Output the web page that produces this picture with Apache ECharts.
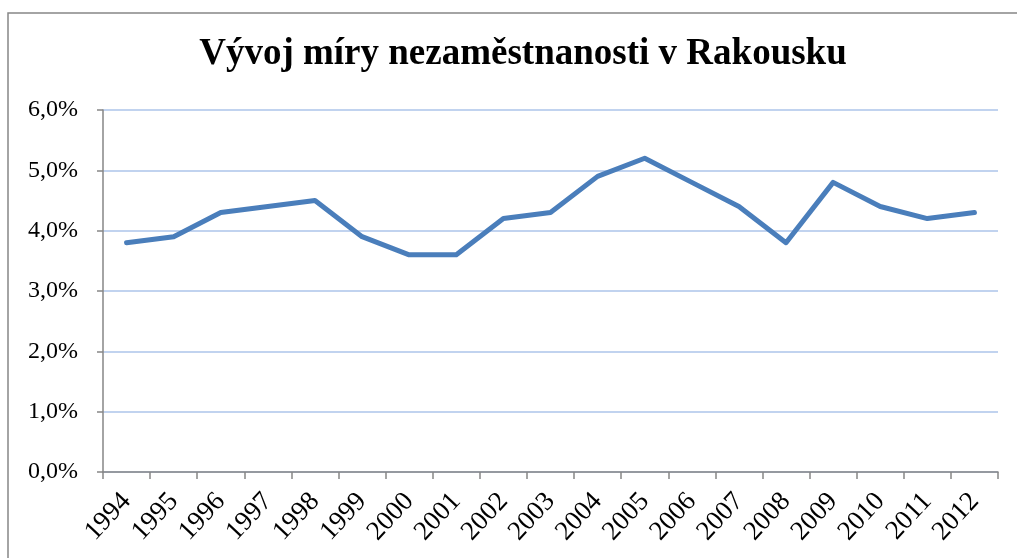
<!DOCTYPE html>
<html><head><meta charset="utf-8">
<script src="https://cdn.jsdelivr.net/npm/echarts@6/dist/echarts.min.js"></script>
<style>html,body{margin:0;padding:0;background:#fff}#c{width:1017px;height:558px}</style>
</head><body><div id="c"></div>
<script>
const title = 'Vývoj míry nezaměstnanosti v Rakousku';
const years = ['1994','1995','1996','1997','1998','1999','2000','2001','2002','2003','2004','2005','2006','2007','2008','2009','2010','2011','2012'];
const unemployment = [3.8,3.9,4.3,4.4,4.5,3.9,3.6,3.6,4.2,4.3,4.9,5.2,4.8,4.4,3.8,4.8,4.4,4.2,4.3];
const yTicks = [0,1,2,3,4,5,6];

const chart = echarts.init(document.getElementById('c'), null, {renderer:'canvas'});
chart.setOption({
  animation:false,
  backgroundColor:'#fff',
  graphic:[{type:'rect',shape:{x:8,y:13,width:1100,height:700},style:{fill:'none',stroke:'#878787',lineWidth:1.5},silent:true}],
  title:{text:title,left:518,top:31,textAlign:'center',
    textStyle:{fontFamily:'Liberation Serif',fontWeight:'bold',fontSize:37,color:'#000'}},
  grid:{left:103,right:19,top:110,bottom:86,containLabel:false},
  xAxis:{type:'category',data:years,boundaryGap:true,
    axisLine:{lineStyle:{color:'#868686',width:1.5}},
    axisTick:{show:true,length:7,alignWithLabel:false,lineStyle:{color:'#868686',width:1.5}},
    axisLabel:{rotate:47,interval:0,margin:25,fontFamily:'Liberation Serif',fontSize:27,color:'#000'}},
  yAxis:{type:'value',min:yTicks[0],max:yTicks[yTicks.length-1],interval:1,
    axisLine:{show:true,lineStyle:{color:'#868686',width:1.5}},
    axisTick:{show:true,length:6,lineStyle:{color:'#868686',width:1.5}},
    splitLine:{lineStyle:{color:'#adc5ea',width:1.5}},
    axisLabel:{margin:25,fontFamily:'Liberation Serif',fontSize:24,color:'#000',
      formatter:v=>v.toFixed(1).replace('.',',')+'%'}},
  series:[{type:'line',data:unemployment,symbol:'none',
    lineStyle:{color:'#4a7ebb',width:5,cap:'round',join:'round'}}]
});
</script></body></html>
